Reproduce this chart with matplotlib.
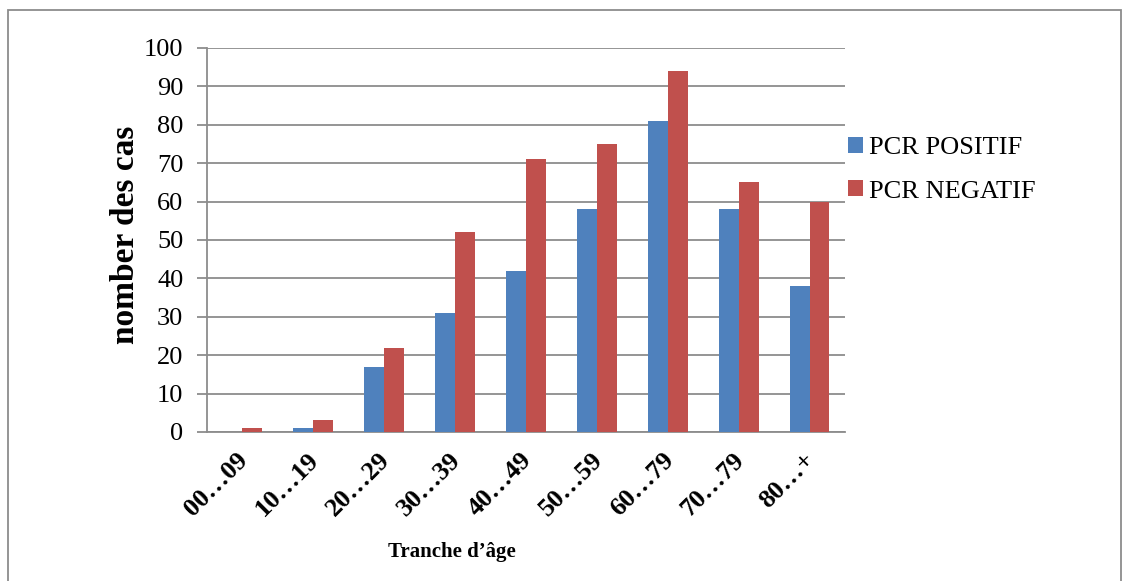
import numpy as np
import matplotlib
matplotlib.use("Agg")
import matplotlib.pyplot as plt
import matplotlib.transforms as mtransforms
from matplotlib.patches import Rectangle

# Data
categories = ["00…09", "10…19", "20…29", "30…39", "40…49",
              "50…59", "60…79", "70…79", "80…+"]
pcr_positif = [0, 1, 17, 31, 42, 58, 81, 58, 38]
pcr_negatif = [1, 3, 22, 52, 71, 75, 94, 65, 60]
series_names = ["PCR POSITIF", "PCR NEGATIF"]
yticks = list(range(0, 101, 10))

BLUE = "#4F81BD"
RED = "#C0504D"
GRID = "#8c8c8c"

plt.rcParams['font.family'] = ['Liberation Serif', 'DejaVu Serif']

fig = plt.figure(figsize=(11.29, 5.81), dpi=100)
W, H = 1129, 581

# outer frame
fig.patches.append(Rectangle((8 / W, -0.05), (1121 - 8) / W, (571 / H) + 0.05,
                             transform=fig.transFigure, fill=False,
                             edgecolor="#8c8c8c", linewidth=1.3))

ax = fig.add_axes([207 / W, 1 - 432 / H, (845 - 207) / W, (432 - 48) / H])

x = np.arange(len(categories))
w = 0.28
ax.bar(x - w / 2, pcr_positif, w, color=BLUE, label=series_names[0], zorder=3)
ax.bar(x + w / 2, pcr_negatif, w, color=RED, label=series_names[1], zorder=3)

ax.set_xlim(-0.5, len(categories) - 0.5)
ax.set_ylim(0, 100)
ax.set_yticks(yticks)
ax.yaxis.grid(True, color=GRID, linewidth=1.3, zorder=0)
ax.set_axisbelow(True)

for s in ["top", "right"]:
    ax.spines[s].set_visible(False)
for s in ["left", "bottom"]:
    ax.spines[s].set_color(GRID)
    ax.spines[s].set_linewidth(1.3)

ax.tick_params(axis="y", length=7, width=1.3, color=GRID, labelsize=19, pad=10)
ax.tick_params(axis="x", length=0, pad=12)
ax.set_xticks(x)
ax.set_xticklabels(categories, rotation=45, ha="right", rotation_mode="anchor",
                   fontsize=19, fontweight="bold")
# nudge the rotated labels a little to the left
shift = mtransforms.ScaledTranslation(-6 / 100, 0, fig.dpi_scale_trans)
for lab in ax.get_xticklabels():
    lab.set_transform(lab.get_transform() + shift)

fig.text(125 / W, 1 - 235 / H, "nomber des cas", rotation=90, ha="center",
         va="center", fontsize=24, fontweight="bold")
fig.text(452 / W, 1 - 552 / H, "Tranche d’âge", ha="center", va="center",
         fontsize=15, fontweight="bold")

ax.legend(loc="upper left", bbox_to_anchor=(1.005, 0.768), frameon=False,
          fontsize=19, handlelength=0.55, handleheight=0.55, handletextpad=0.25,
          labelspacing=0.8, borderaxespad=0, borderpad=0)

fig.savefig("out.png", dpi=100)
